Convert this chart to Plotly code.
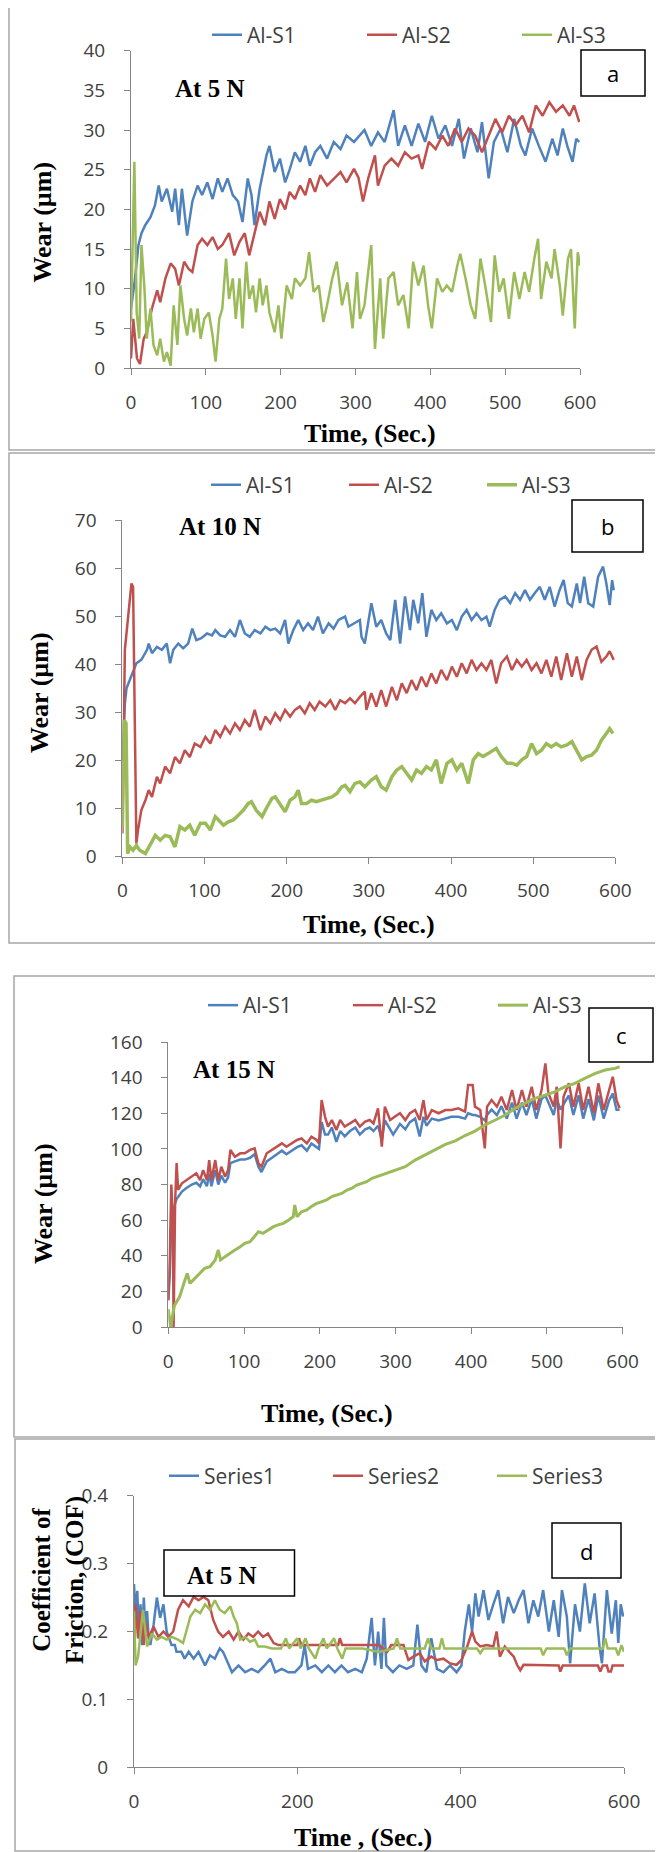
import plotly.graph_objects as go

# ---- data: (time s, value) ----
a_s1 = [(0, 7.5), (5, 11), (10, 15.5), (14, 17), (19, 18), (26, 19), (32, 20.5), (37, 23), (41, 21), (48, 22.6),
        (55, 19.7), (59, 22.6), (64, 18), (68, 22.6), (75, 16.7), (82, 21), (89, 23), (95, 21.8), (102, 23.4),
        (109, 21.3), (116, 23.9), (122, 22.2), (129, 23.9), (136, 21.8), (143, 21), (149, 18.4), (156, 23.9),
        (161, 21.8), (165, 18), (172, 22.6), (181, 26.8), (185, 28), (192, 24.7), (199, 26.4), (206, 23.4),
        (212, 25), (219, 27.2), (226, 26), (233, 28), (239, 25.5), (246, 27.2), (253, 28), (262, 26.4),
        (271, 28.5), (280, 27.6), (288, 29.3), (298, 28.5), (312, 30), (321, 28), (330, 29.7), (339, 28.5),
        (351, 32.5), (357, 28), (366, 30.6), (375, 28), (384, 30.8), (393, 28.5), (402, 31.8), (411, 28.9),
        (420, 30.6), (429, 28), (438, 31.4), (445, 26.4), (454, 30.2), (463, 27.2), (469, 31), (478, 23.9),
        (485, 28.5), (494, 30.2), (503, 27.2), (512, 31.4), (521, 28), (527, 26.8), (536, 30.2), (545, 28),
        (554, 26), (563, 28.9), (570, 26.8), (577, 30.2), (583, 28), (590, 26), (595, 28.9), (599, 28.5)]
a_s2 = [(0, 1.2), (3, 6.2), (8, 1.2), (12, 0.5), (17, 3.7), (21, 4.5), (28, 7.5), (35, 9.8), (39, 8.3), (46, 11.3),
        (53, 13.2), (59, 12.5), (64, 10.4), (71, 13.4), (77, 12.5), (82, 12.1), (89, 15.5), (95, 16.3), (102, 15.5),
        (109, 16.5), (116, 15), (122, 15.5), (131, 17), (138, 14.2), (145, 15.9), (152, 17), (158, 14.2), (165, 17),
        (172, 19.7), (179, 18), (185, 21), (192, 18.8), (199, 21.3), (206, 20), (212, 22.2), (219, 21.3), (226, 23),
        (233, 21.8), (239, 23.9), (246, 22.2), (253, 24.3), (262, 23), (271, 23.9), (280, 24.7), (288, 23.4),
        (298, 25.1), (304, 24), (310, 21), (317, 23.9), (326, 26.8), (330, 23), (339, 25.5), (348, 26.4),
        (357, 25.5), (366, 27.2), (375, 26.4), (384, 26.8), (389, 25.1), (398, 28.5), (407, 27.6), (416, 29.3),
        (424, 28), (433, 30.2), (442, 28.5), (451, 30.2), (460, 29.3), (469, 27.2), (478, 29.3), (487, 31.4),
        (496, 29.7), (505, 31.8), (514, 30.6), (523, 31.8), (532, 29.7), (541, 33.1), (550, 31.8), (559, 33.5),
        (568, 32.3), (577, 33.1), (586, 31.8), (592, 33.1), (599, 31)]
a_s3 = [(0, 5.8), (4.5, 26), (7.6, 7), (11, 3.7), (14, 15.5), (18, 10), (21, 3.7), (26, 7.5), (30, 2.9), (35, 1.6),
        (39, 3.7), (44, 0.8), (48, 2), (53, 0.3), (57, 7.9), (62, 2.9), (66, 10.4), (71, 6.2), (75, 4.1), (80, 7.5),
        (84, 4.5), (89, 7.5), (93, 3.7), (98, 6.2), (104, 7), (109, 4.1), (113, 0.8), (118, 6.2), (122, 7.5),
        (127, 13.8), (131, 8.7), (136, 11.3), (140, 6.2), (145, 11.3), (149, 5), (154, 13.4), (158, 8.7),
        (163, 10.4), (167, 7), (172, 11.3), (176, 7.9), (181, 10.4), (185, 7), (192, 4.5), (197, 7.9), (201, 3.7),
        (208, 10.4), (215, 8.7), (219, 11.3), (226, 10.4), (233, 11.3), (238, 14.6), (244, 9.6), (251, 10.4),
        (257, 5.8), (262, 7.9), (269, 11.3), (275, 13.4), (282, 7.9), (289, 10.8), (296, 5), (302, 12.1),
        (306, 6.2), (312, 7.9), (321, 15.5), (326, 2.4), (333, 11.3), (337, 3.7), (344, 11.3), (351, 12.1),
        (357, 7.9), (364, 9.2), (371, 5), (377, 13.4), (384, 10.4), (391, 12.9), (397, 7.9), (402, 5), (409, 11.3),
        (416, 9.6), (422, 10.4), (429, 9.6), (436, 12.9), (440, 14.4), (447, 11.3), (454, 7.9), (460, 6.2),
        (467, 13.8), (474, 10), (481, 5.8), (486, 14.2), (492, 9.6), (498, 11.3), (505, 6.2), (512, 12.1),
        (519, 8.7), (526, 12.1), (532, 9.6), (539, 13.8), (544, 16.3), (548, 8.7), (555, 13.4), (562, 11.3),
        (566, 15), (573, 10.4), (577, 6.6), (584, 13.8), (588, 15), (593, 5), (597, 14.6), (600, 12.9)]

b_s1 = [(0, 20), (2, 30), (3, 31.8), (5, 35), (9, 36.7), (13, 38.8), (17, 40.2), (23, 40.9), (30, 43), (32, 44.3),
        (36, 42.3), (42, 43.6), (48, 43), (54, 44.3), (58, 40.2), (62, 43), (68, 44.3), (74, 43.3), (80, 44.3),
        (85, 47.4), (90, 45), (96, 45.4), (103, 46.4), (109, 46), (113, 47.1), (119, 46), (125, 45.7), (131, 47.1),
        (137, 45.7), (143, 49.2), (149, 46.4), (155, 45.7), (161, 47.1), (168, 46.4), (174, 47.8), (180, 47.1),
        (186, 47.4), (192, 46.4), (198, 49.2), (202, 44.3), (208, 47.1), (214, 49.2), (220, 47.1), (226, 48.5),
        (232, 47.1), (238, 49.9), (244, 46.4), (251, 48.5), (257, 47.4), (263, 49.2), (271, 49.9), (275, 47.8),
        (283, 48.5), (289, 49.2), (291, 45.7), (295, 44.3), (303, 52.7), (309, 47.8), (315, 49.2), (321, 46.4),
        (326, 45), (332, 53.4), (338, 44.3), (344, 54.1), (350, 47.1), (354, 53.4), (360, 48.5), (365, 54.8),
        (370, 45.7), (376, 51.3), (382, 49.2), (388, 50.6), (395, 48.5), (401, 49.2), (407, 47.1), (413, 49.9),
        (419, 51.3), (425, 49.2), (431, 50.6), (437, 49.2), (443, 49.9), (447, 47.8), (453, 51.3), (459, 53.4),
        (466, 54.1), (472, 52.7), (478, 54.8), (484, 53.4), (490, 55.4), (496, 53.4), (502, 54.8), (508, 56.1),
        (514, 53.4), (520, 56.1), (526, 52), (532, 55.4), (537, 57.5), (542, 52.7), (547, 52), (553, 56.8),
        (557, 52.7), (562, 58.2), (567, 52.7), (573, 52), (579, 58.2), (585, 60.3), (589, 56.8), (593, 52.3),
        (596, 57.5), (598, 55.4)]
b_s2 = [(0, 4.8), (3, 43), (7, 49.9), (11, 56.8), (13, 56.1), (15, 23.5), (17, 2.7), (19, 5.5), (23, 9.6), (28, 11.7),
        (32, 13.8), (36, 12.4), (42, 16.6), (46, 15.2), (52, 18.7), (58, 17.3), (64, 20.7), (70, 19.4), (76, 22.1),
        (82, 20.7), (88, 23.5), (95, 22.8), (101, 24.9), (107, 23.5), (113, 26.3), (119, 24.9), (125, 27),
        (131, 25.6), (137, 27.7), (143, 26.3), (149, 28.4), (155, 27), (161, 30.5), (168, 26.3), (174, 29.1),
        (180, 27.7), (186, 29.8), (192, 28.4), (198, 30.5), (204, 29.1), (210, 30.5), (216, 31.2), (222, 29.8),
        (228, 31.9), (234, 30.5), (240, 32.2), (247, 31.2), (253, 32.5), (259, 30.5), (265, 32.5), (271, 31.9),
        (277, 32.9), (283, 31.9), (289, 33.2), (295, 34.3), (297, 30.5), (303, 34), (309, 31.2), (315, 34.6),
        (321, 31.2), (328, 35.3), (334, 32.5), (340, 36), (346, 34), (352, 36.7), (358, 34.6), (364, 37.4),
        (370, 35.3), (376, 38.1), (382, 36), (388, 38.8), (395, 36.7), (401, 39.5), (407, 37.4), (413, 40.2),
        (419, 38.1), (425, 40.9), (431, 38.8), (437, 40.2), (443, 38.8), (449, 40.9), (455, 36), (461, 40.2),
        (468, 41.6), (474, 38.8), (480, 40.9), (486, 39.5), (492, 40.9), (498, 38.8), (504, 40.2), (510, 38.1),
        (516, 40.9), (522, 37.4), (528, 41.6), (534, 36.7), (541, 42.3), (547, 37.4), (553, 41.6), (559, 36.7),
        (565, 40.9), (571, 43), (577, 43.7), (583, 40.5), (589, 41.6), (593, 42.7), (598, 40.9)]
b_s3 = [(0, 6.2), (2, 28.4), (4.4, 27.7), (6.4, 0.6), (9, 2), (13, 1.3), (17, 2.3), (21, 1.3), (28, 0.6), (34, 2.7),
        (40, 4.4), (46, 3.4), (52, 4.4), (58, 4.1), (64, 2), (70, 6.2), (76, 5.5), (82, 6.5), (88, 4.4), (95, 6.9),
        (101, 6.9), (107, 5.5), (113, 8.3), (117, 7.6), (123, 6.5), (129, 7.2), (135, 7.6), (141, 8.6), (147, 9.6),
        (153, 11), (157, 11.4), (163, 9.6), (170, 8.3), (176, 10.3), (182, 12.1), (186, 12.4), (192, 11),
        (198, 9.3), (204, 11.7), (210, 12.4), (214, 13.8), (218, 11), (224, 11), (230, 11.7), (236, 11.4),
        (242, 11.7), (248, 12.1), (255, 12.4), (261, 13.1), (267, 14.5), (271, 14.8), (277, 13.5), (283, 15.2),
        (289, 15.5), (295, 14.5), (303, 15.9), (309, 16.6), (315, 14.5), (321, 13.8), (328, 16.6), (334, 18),
        (340, 18.7), (346, 17.3), (352, 15.9), (358, 18), (364, 17.3), (370, 18.7), (376, 18), (382, 20.1),
        (388, 15.2), (395, 19.4), (401, 20.1), (407, 18), (413, 19.4), (421, 15.2), (427, 20.1), (433, 21.4),
        (439, 20.8), (445, 21.4), (451, 22.1), (455, 22.5), (461, 20.8), (468, 19.4), (474, 19.4), (480, 19),
        (486, 20.1), (492, 20.8), (498, 23.5), (504, 21.4), (510, 22.1), (516, 23.5), (522, 22.8), (528, 23.5),
        (534, 22.8), (541, 23.2), (547, 23.9), (553, 22.1), (559, 20.1), (565, 20.8), (571, 21.1), (577, 22.1),
        (583, 24.2), (589, 25.6), (593, 26.6), (597, 25.6)]

c_s1 = [(0, 15), (2, 30), (4, 60), (6, 66), (8, 68), (11, 72), (13, 73), (18, 76), (24, 78), (31, 80), (37, 81),
        (42, 79), (46, 83), (51, 79), (54, 86), (57, 79), (62, 88), (66, 80), (70, 85), (75, 81), (79, 84), (82, 92),
        (88, 93), (95, 94), (101, 94), (108, 95), (114, 97), (119, 90), (123, 87), (130, 93), (137, 95), (143, 97),
        (150, 99), (156, 97), (163, 99), (170, 101), (176, 102), (183, 99), (189, 103), (196, 101), (199, 100),
        (202.5, 115), (207, 108), (211, 108), (216, 112), (222, 104), (227, 110), (233, 107), (240, 110),
        (247, 112), (253, 108), (260, 111), (266, 112), (271, 110), (277, 113), (282, 105), (286, 116), (293, 111),
        (297, 108), (306, 114), (313, 111), (319, 115), (326, 117), (332, 107), (337, 118), (341, 113), (348, 117),
        (357, 116), (366, 117), (374, 118), (383, 118), (392, 117), (396, 120), (402, 119), (405, 119), (412, 118),
        (418, 116), (421, 119), (427, 122), (434, 119), (440, 124), (447, 117), (454, 126), (460, 117), (467, 126),
        (473, 119), (480, 128), (486, 117), (493, 128), (498, 130), (502, 126), (509, 119), (513, 128), (518, 122),
        (522, 125), (529, 130), (535, 119), (542, 130), (548, 117), (555, 128), (562, 116), (568, 130), (575, 117),
        (582, 127), (587, 131), (592, 122), (596, 122)]
c_s2 = [(0, 15), (2, 40), (4, 80), (6, 60), (7, 0), (9, 70), (11, 92), (13, 77), (18, 80.7), (24, 82.5), (31, 84.4),
        (37, 86.3), (42, 82.5), (46, 88.1), (51, 82.5), (54, 93.7), (57, 82.5), (62, 93.7), (66, 82.5), (70, 90),
        (75, 84.4), (79, 88.1), (82, 99.4), (88, 95.6), (95, 97.5), (101, 97.5), (108, 99.4), (114, 100.3),
        (119, 91.9), (123, 90), (130, 97.5), (137, 99.4), (143, 101.2), (150, 103.1), (156, 101.2), (163, 103.1),
        (170, 105), (176, 105.9), (183, 103.1), (189, 106.8), (196, 105), (199, 103.1), (202.5, 127.4), (207, 118),
        (211, 112.5), (216, 116.2), (222, 110.6), (227, 116.2), (233, 112.5), (240, 114.3), (247, 116.2),
        (253, 112.5), (260, 115.3), (266, 116.2), (271, 114.3), (277, 122.8), (282, 101.2), (286, 123.7),
        (293, 116.2), (299, 118), (306, 120), (313, 116.2), (319, 120), (326, 121.8), (332, 116.2), (337, 127.4),
        (341, 116.2), (348, 121.8), (357, 120), (366, 121.8), (374, 121.8), (383, 122.8), (392, 120.9),
        (396, 135.9), (402, 135.9), (405, 123.7), (412, 121.8), (418, 100.3), (421, 123.7), (427, 127.4),
        (434, 123.7), (440, 129.3), (447, 121.8), (454, 133), (460, 121.8), (467, 133), (473, 123.7), (480, 134.9),
        (486, 121.8), (493, 133), (498, 148), (502, 131.2), (509, 123.7), (513, 134.9), (518, 100.3), (522, 129.3),
        (529, 136.8), (535, 123.7), (542, 136.8), (548, 121.8), (555, 134.9), (562, 120), (568, 136.8),
        (575, 121.8), (582, 133), (587, 140.5), (592, 127.4), (596, 122.8)]
c_s3 = [(0, 10), (3, 0), (8, 12), (15, 17), (22, 26.4), (25, 30.1), (28.6, 24.5), (35, 27.3), (42, 30.1), (48, 32.9),
        (55, 33.9), (62, 37.6), (66, 43.2), (69, 37.6), (75, 39.5), (81, 41.4), (88, 43.2), (95, 45.1), (101, 47),
        (108, 47.9), (114, 50.7), (119, 53.5), (125, 52.6), (132, 54.5), (139, 56.3), (145, 57.3), (152, 58.2),
        (159, 60.1), (165, 61.9), (167, 68.5), (170, 61.9), (176, 64.7), (183, 65.7), (189, 67.6), (196, 69.4),
        (203, 70.4), (209, 71.3), (216, 73.2), (222, 74.1), (229, 75), (236, 76.9), (242, 77.8), (249, 79.7),
        (255, 80.7), (262, 81.6), (269, 83.5), (275, 84.4), (282, 85.3), (288, 86.3), (295, 87.2), (299, 88.1),
        (313, 90), (326, 93.7), (339, 96.6), (352, 99.4), (366, 102.5), (379, 104.5), (392, 107.5), (405, 110),
        (418, 113.4), (432, 116.2), (445, 119), (458, 122.8), (471, 125.6), (484, 128.4), (498, 130.2),
        (511, 132.1), (524, 134.9), (537, 136.8), (550, 139.6), (564, 142.4), (577, 144.3), (590, 145.2),
        (596, 146.1)]

d_s1 = [(0, 0.27), (2, 0.22), (4, 0.26), (6, 0.19), (8, 0.24), (10, 0.18), (12, 0.25), (14, 0.2), (16, 0.23),
        (18, 0.19), (20, 0.18), (24, 0.21), (28, 0.25), (32, 0.22), (36, 0.24), (40, 0.2), (46, 0.18), (50, 0.18),
        (52, 0.17), (58, 0.17), (62, 0.16), (67, 0.17), (73, 0.16), (79, 0.17), (87, 0.15), (93, 0.165), (99, 0.16),
        (105, 0.175), (109, 0.17), (116, 0.15), (120, 0.14), (128, 0.15), (136, 0.14), (144, 0.145), (152, 0.14),
        (160, 0.15), (167, 0.16), (173, 0.14), (181, 0.145), (189, 0.14), (197, 0.14), (205, 0.15), (209, 0.18),
        (213, 0.145), (222, 0.15), (230, 0.14), (238, 0.15), (246, 0.14), (254, 0.15), (262, 0.14), (271, 0.145),
        (279, 0.14), (285, 0.16), (291, 0.22), (295, 0.15), (299, 0.2), (303, 0.145), (306, 0.22), (309, 0.15),
        (317, 0.14), (325, 0.15), (334, 0.145), (342, 0.15), (347, 0.21), (352, 0.15), (358, 0.14), (364, 0.19),
        (371, 0.145), (379, 0.14), (387, 0.15), (395, 0.14), (401, 0.15), (405, 0.2), (410, 0.24), (414, 0.2),
        (418, 0.256), (422, 0.222), (428, 0.261), (434, 0.217), (440, 0.24), (446, 0.261), (452, 0.212),
        (458, 0.251), (465, 0.227), (471, 0.246), (477, 0.261), (483, 0.212), (489, 0.246), (495, 0.222),
        (501, 0.261), (508, 0.2), (514, 0.246), (520, 0.192), (524, 0.261), (530, 0.222), (534, 0.153), (540, 0.24),
        (546, 0.2), (552, 0.271), (558, 0.212), (564, 0.256), (570, 0.178), (573, 0.153), (579, 0.261),
        (585, 0.197), (590, 0.246), (593, 0.183), (596, 0.24), (599, 0.222)]
d_s2 = [(0, 0.17), (2, 0.24), (5, 0.19), (8, 0.23), (12, 0.18), (13, 0.217), (18, 0.192), (24, 0.207), (30, 0.192),
        (36, 0.2), (42, 0.192), (48, 0.2), (54, 0.232), (60, 0.246), (67, 0.237), (73, 0.251), (79, 0.246),
        (85, 0.251), (91, 0.246), (97, 0.217), (103, 0.2), (109, 0.192), (116, 0.2), (122, 0.188), (128, 0.2),
        (134, 0.188), (140, 0.197), (146, 0.192), (152, 0.2), (158, 0.192), (164, 0.197), (171, 0.183), (177, 0.18),
        (200, 0.18), (202, 0.19), (205, 0.18), (250, 0.18), (252, 0.19), (255, 0.18), (300, 0.18), (310, 0.17),
        (315, 0.18), (330, 0.18), (336, 0.158), (342, 0.163), (350, 0.168), (356, 0.156), (364, 0.163),
        (371, 0.158), (379, 0.16), (387, 0.153), (395, 0.151), (401, 0.158), (408, 0.178), (414, 0.2),
        (418, 0.185), (424, 0.178), (432, 0.18), (440, 0.178), (444, 0.2), (448, 0.163), (454, 0.178),
        (461, 0.168), (465, 0.163), (469, 0.151), (473, 0.143), (477, 0.151), (520, 0.15), (522, 0.141),
        (525, 0.15), (568, 0.15), (571, 0.141), (574, 0.15), (579, 0.15), (581, 0.141), (584, 0.141), (586, 0.15),
        (600, 0.15)]
d_s3 = [(0, 0.23), (2, 0.15), (5, 0.163), (8, 0.2), (11, 0.232), (16, 0.178), (22, 0.197), (28, 0.188), (34, 0.192),
        (40, 0.188), (46, 0.192), (54, 0.188), (60, 0.183), (64, 0.2), (69, 0.222), (75, 0.232), (81, 0.227),
        (87, 0.24), (93, 0.232), (99, 0.246), (105, 0.232), (111, 0.227), (118, 0.237), (122, 0.222), (126, 0.212),
        (130, 0.188), (136, 0.192), (142, 0.185), (148, 0.188), (152, 0.178), (160, 0.178), (169, 0.175),
        (180, 0.175), (186, 0.19), (190, 0.175), (200, 0.19), (204, 0.175), (210, 0.19), (214, 0.175), (222, 0.16),
        (226, 0.175), (232, 0.19), (236, 0.175), (245, 0.19), (249, 0.175), (255, 0.16), (259, 0.175),
        (280, 0.175), (300, 0.17), (318, 0.175), (322, 0.19), (326, 0.175), (356, 0.175), (360, 0.19),
        (364, 0.175), (374, 0.175), (377, 0.19), (380, 0.175), (420, 0.175), (424, 0.168), (428, 0.175),
        (498, 0.175), (501, 0.165), (505, 0.175), (527, 0.175), (530, 0.165), (534, 0.175), (574, 0.175),
        (577, 0.19), (580, 0.175), (590, 0.175), (593, 0.165), (597, 0.18), (600, 0.17)]

wear_names = ["Al-S1", "Al-S2", "Al-S3"]
cof_names = ["Series1", "Series2", "Series3"]
colors = ["#4F81BD", "#C0504D", "#9BBB59"]

# the page body keeps its default 8px margin, so the figure is drawn 8px in
OFF = 8
W, H = 663 - OFF, 1852 - OFF


def px(x):
    return (x - OFF) / W


def py(y):
    return 1 - (y - OFF) / H


fig = go.Figure()

panels = [
    dict(data=[a_s1, a_s2, a_s3], names=wear_names, widths=[2.5, 2.5, 2.5], legend="legend"),
    dict(data=[b_s1, b_s2, b_s3], names=wear_names, widths=[2.5, 2.5, 3.5], legend="legend2"),
    dict(data=[c_s1, c_s2, c_s3], names=wear_names, widths=[2.5, 2.5, 3], legend="legend3"),
    dict(data=[d_s1, d_s2, d_s3], names=cof_names, widths=[2.5, 2.5, 2.5], legend="legend4"),
]

for i, p in enumerate(panels):
    sfx = "" if i == 0 else str(i + 1)
    for series, name, color, w in zip(p["data"], p["names"], colors, p["widths"]):
        fig.add_trace(go.Scatter(
            x=[t for t, v in series], y=[v for t, v in series],
            mode="lines", name=name, line=dict(color=color, width=w),
            xaxis="x" + sfx, yaxis="y" + sfx, legend=p["legend"],
        ))

tickfont = dict(family="Open Sans", size=19, color="#404040")
ax = dict(showgrid=False, zeroline=False, showline=True, linecolor="#868686", linewidth=1,
          ticks="outside", ticklen=6, tickcolor="#868686", tickfont=tickfont)

# plot-area boxes in pixels: left, right, top, bottom
areas = [(131, 580, 50.7, 368), (122.4, 615.4, 520, 856.5), (168.3, 622.6, 1042, 1327), (134, 624, 1495.7, 1767.3)]
yranges = [(40, 5), (70, 10), (160, 20), (0.4, 0.1)]
xdticks = [100, 100, 100, 200]

layout = dict(width=W, height=H, margin=dict(l=0, r=0, t=0, b=0, autoexpand=False),
              paper_bgcolor="white", plot_bgcolor="white")
for i, ((l, r, t, b), (ymax, ydt), xdt) in enumerate(zip(areas, yranges, xdticks)):
    sfx = "" if i == 0 else str(i + 1)
    layout["xaxis" + sfx] = dict(ax, domain=[px(l), px(r)], range=[0, 600], dtick=xdt, tick0=0,
                                 anchor="y" + sfx, ticklabelstandoff=11)
    layout["yaxis" + sfx] = dict(ax, domain=[py(b), py(t)], range=[0, ymax], dtick=ydt, tick0=0,
                                 anchor="x" + sfx, ticklabelstandoff=15)

legfont = dict(family="Open Sans", size=21, color="#404040")
# left edge of legend, centre line, spacing between entries (px)
leg_pos = [(207, 35, 150), (206, 485, 133), (203, 1005.5, 140), (164, 1476, 159)]
for i, (lx, ly, step) in enumerate(leg_pos):
    key = "legend" if i == 0 else "legend" + str(i + 1)
    layout[key] = dict(orientation="h", x=px(lx), y=py(ly), xanchor="left", yanchor="middle",
                       entrywidth=step - 40, entrywidthmode="pixels", font=legfont,
                       bgcolor="rgba(0,0,0,0)", borderwidth=0)

fig.update_layout(**layout)

# panel frames and letter boxes
frames = [(9, 657, 5, 450), (9, 657, 453, 943), (14, 662, 976, 1437), (15, 662, 1439, 1851)]
for x0, x1, y0, y1 in frames:
    fig.add_shape(type="rect", xref="paper", yref="paper", x0=px(x0), x1=px(x1), y0=py(y1), y1=py(y0),
                  line=dict(color="#A6A6A6", width=1.5))

boxes = [(581, 645, 50, 96), (572, 643, 500, 552), (589, 653, 1008, 1062), (552, 621, 1523, 1578),
         (164, 294.5, 1550, 1596)]
for x0, x1, y0, y1 in boxes:
    fig.add_shape(type="rect", xref="paper", yref="paper", x0=px(x0), x1=px(x1), y0=py(y1), y1=py(y0),
                  line=dict(color="black", width=1.5))


def note(text, x, y, size, family="Liberation Serif", angle=0, color="black"):
    fig.add_annotation(text=text, x=px(x), y=py(y), xref="paper", yref="paper", showarrow=False,
                       xanchor="center", yanchor="middle", textangle=angle,
                       font=dict(family=family, size=size, color=color))


for letter, x, y in [("a", 613, 73), ("b", 607.5, 526), ("c", 621, 1035), ("d", 586.5, 1550.5)]:
    note(letter, x, y, 22, family="Open Sans")

note("<b>At 5 N</b>", 209.5, 88, 25)
note("<b>At 10 N</b>", 219.5, 526, 25)
note("<b>At 15 N</b>", 233.5, 1069, 25)
note("<b>At 5 N</b>", 222, 1575, 25)

note("<b>Wear (µm)</b>", 42, 222.5, 26, angle=-90)
note("<b>Wear (µm)</b>", 39, 693, 26, angle=-90)
note("<b>Wear (µm)</b>", 43, 1204, 26, angle=-90)
note("<b>Coefficient of<br>Friction, (COF)</b>", 58, 1580, 25, angle=-90)

note("<b>Time, (Sec.)</b>", 370, 433, 26)
note("<b>Time, (Sec.)</b>", 369, 924, 26)
note("<b>Time, (Sec.)</b>", 327, 1413, 26)
note("<b>Time , (Sec.)</b>", 363, 1837, 26)

fig.write_html("out.html")
